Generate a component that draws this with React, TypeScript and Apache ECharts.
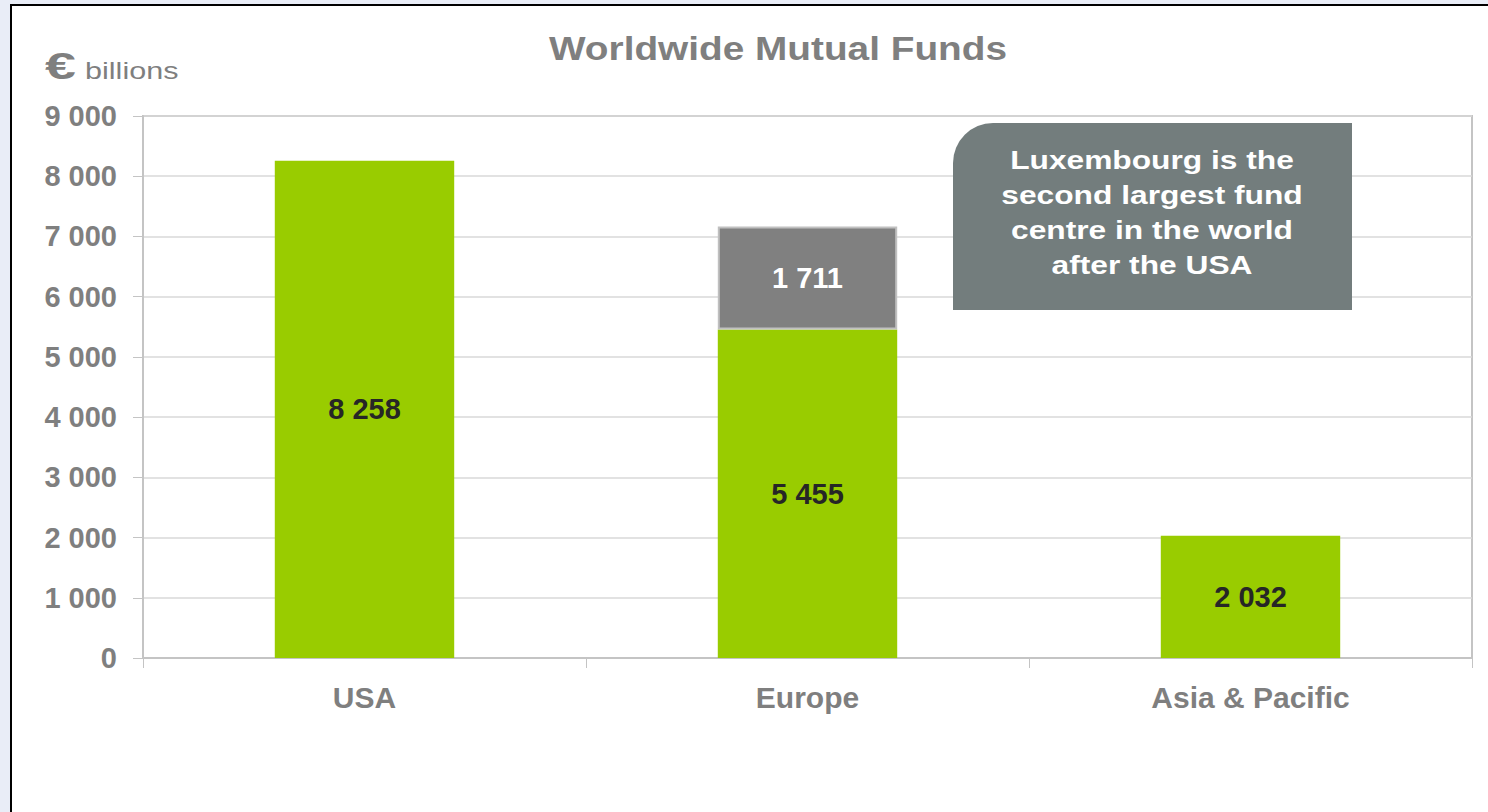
import React, { useEffect, useRef } from "react";
import * as echarts from "echarts";

const categories = ["USA", "Europe", "Asia & Pacific"];
const mainValues = [8258, 5455, 2032];
const luxValues: (number | string)[] = ["-", 1711, "-"];
const yTicks = { min: 0, max: 9000, interval: 1000 };
const titleText = "Worldwide Mutual Funds";
const unitSymbol = "€";
const unitText = "billions";
const noteLines = ["Luxembourg is the", "second largest fund", "centre in the world", "after the USA"];

const FONT = "'Liberation Sans', Arial, sans-serif";
const fmt = (v: number) => String(v).replace(/\B(?=(\d{3})+(?!\d))/g, " ");

export default function App() {
  const ref = useRef<HTMLDivElement>(null);
  useEffect(() => {
    if (!ref.current) return;
    const chart = echarts.init(ref.current, undefined, { renderer: "svg" });
    chart.setOption({
      animation: false,
      backgroundColor: "#e9edf7",
      grid: {
        left: 143,
        right: 16,
        top: 116,
        bottom: 154,
        show: true,
        borderColor: "#c4c4c4",
        borderWidth: 2,
        backgroundColor: "transparent",
      },
      xAxis: {
        type: "category",
        data: categories,
        axisLine: { lineStyle: { color: "#c4c4c4", width: 2 } },
        axisTick: { show: true, length: 10, lineStyle: { color: "#c4c4c4" } },
        axisLabel: { color: "#7f7f7f", fontWeight: "bold", fontSize: 30, fontFamily: FONT, margin: 24 },
      },
      yAxis: {
        type: "value",
        min: yTicks.min,
        max: yTicks.max,
        interval: yTicks.interval,
        axisLine: { show: true, lineStyle: { color: "#c4c4c4", width: 2 } },
        axisTick: { show: true, length: 10, lineStyle: { color: "#c4c4c4" } },
        splitLine: { lineStyle: { color: "#d9d9d9", width: 1.5 } },
        axisLabel: {
          color: "#7f7f7f",
          fontWeight: "bold",
          fontSize: 29,
          fontFamily: FONT,
          margin: 26,
          formatter: (v: number) => fmt(v),
        },
      },
      series: [
        {
          type: "bar",
          stack: "total",
          data: mainValues,
          barWidth: "40.5%",
          itemStyle: { color: "#99cc00" },
          label: {
            show: true,
            position: "inside",
            color: "#262626",
            fontWeight: "bold",
            fontSize: 29,
            fontFamily: FONT,
            formatter: (p: any) => fmt(p.value),
          },
        },
        {
          type: "bar",
          stack: "total",
          data: luxValues,
          barWidth: "40.5%",
          itemStyle: { color: "#808080", borderColor: "#c0c0c0", borderWidth: 2 },
          label: {
            show: true,
            position: "inside",
            color: "#ffffff",
            fontWeight: "bold",
            fontSize: 29,
            fontFamily: FONT,
            formatter: (p: any) => fmt(p.value),
          },
        },
      ],
      graphic: [
        {
          type: "rect",
          z: -100,
          shape: { x: 11, y: 5, width: 1490, height: 820 },
          style: { fill: "#ffffff", stroke: "#000000", lineWidth: 2 },
          silent: true,
        },
        {
          type: "text",
          x: 778,
          y: 49,
          scaleX: 1.175,
          style: {
            text: titleText,
            fill: "#7f7f7f",
            font: `bold 33px ${FONT}`,
            textAlign: "center",
            textVerticalAlign: "middle",
          },
        },
        {
          type: "text",
          x: 45,
          y: 66,
          scaleX: 1.5,
          style: {
            text: unitSymbol,
            fill: "#7f7f7f",
            font: `bold 37px ${FONT}`,
            textAlign: "left",
            textVerticalAlign: "middle",
          },
        },
        {
          type: "text",
          x: 85,
          y: 71,
          scaleX: 1.33,
          style: {
            text: unitText,
            fill: "#7f7f7f",
            font: `23px ${FONT}`,
            textAlign: "left",
            textVerticalAlign: "middle",
          },
        },
        {
          type: "rect",
          z: 50,
          shape: { x: 953, y: 123, width: 399, height: 187, r: [40, 0, 0, 0] },
          style: { fill: "#737d7d" },
        },
        {
          type: "text",
          z: 51,
          x: 1152,
          y: 213,
          scaleX: 1.22,
          style: {
            text: noteLines.join("\n"),
            fill: "#ffffff",
            font: `bold 26px ${FONT}`,
            lineHeight: 35,
            textAlign: "center",
            textVerticalAlign: "middle",
          },
        },
      ],
    });
    return () => chart.dispose();
  }, []);
  return (
    <div
      ref={ref}
      style={{ position: "fixed", left: 0, top: 0, width: 1488, height: 812 }}
    />
  );
}
